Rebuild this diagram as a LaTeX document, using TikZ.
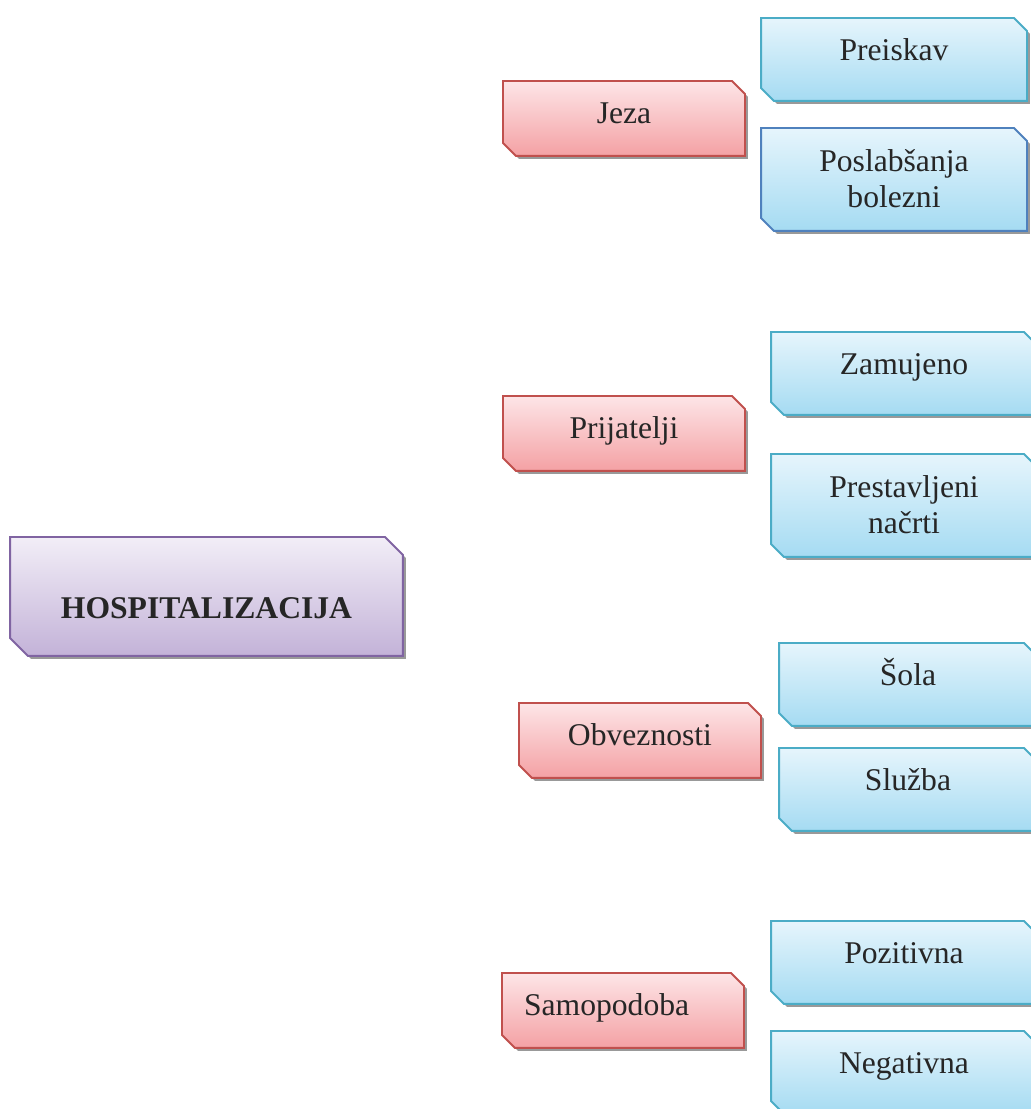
\documentclass[tikz,border=0pt]{standalone}
\usepackage{fontspec}
\setmainfont{Liberation Serif}
\usetikzlibrary{shapes.misc,shadows}

\definecolor{rootline}{HTML}{8064A2}
\definecolor{roottop}{HTML}{F2EEF7}
\definecolor{rootbot}{HTML}{C3B2D8}
\definecolor{branchline}{HTML}{C0504D}
\definecolor{branchtop}{HTML}{FDE5E7}
\definecolor{branchbot}{HTML}{F4A1A4}
\definecolor{leafline}{HTML}{4BACC6}
\definecolor{leafline2}{HTML}{4F81BD}
\definecolor{leaftop}{HTML}{E6F5FC}
\definecolor{leafbot}{HTML}{A5DBF2}

\tikzset{
    mm box/.style={chamfered rectangle,
                   chamfered rectangle corners={north east, south west},
                   chamfered rectangle sep=0.13cm,
                   anchor=north, inner xsep=0pt, inner ysep=0pt,
                   line width=1.1pt, align=center, text=black!85,
                   font=\fontsize{18}{20.7}\selectfont,
                   text height=0.4cm,
                   drop shadow={shadow xshift=0.06cm, shadow yshift=-0.06cm,
                                opacity=1, fill=black!40}},
    mm root/.style={mm box, draw=rootline, top color=roottop,
                    bottom color=rootbot, minimum width=7.86cm,
                    minimum height=2.38cm, chamfered rectangle sep=0.18cm,
                    text height=0.9cm, text depth=0cm,
                    font=\fontsize{18}{20.7}\selectfont\bfseries},
    mm branch/.style={mm box, draw=branchline, top color=branchtop,
                      bottom color=branchbot, minimum width=4.84cm,
                      minimum height=1.5cm, text depth=0.18cm},
    mm leaf/.style={mm box, draw=leafline, top color=leaftop,
                    bottom color=leafbot, minimum width=5.32cm,
                    minimum height=1.66cm, text depth=0.34cm},
    mm leaf2/.style={mm leaf, minimum height=2.06cm,
                     text height=1.4cm, text depth=0.26cm},
}

\begin{document}
\begin{tikzpicture}[x=0.02cm, y=-0.02cm]
    \useasboundingbox (0,0) rectangle (1031,1109);
    \clip (0,0) rectangle (1031,1109);
    % Root
    \node[mm root] (hosp) at (206.5,536) {HOSPITALIZACIJA};
    % Branch: Jeza
    \node[mm branch] (jeza) at (624,80) {Jeza};
    \node[mm leaf] (preiskav) at (894,17) {Preiskav};
    \node[mm leaf2, draw=leafline2] (poslab) at (894,127)
        {Poslabšanja\\bolezni};
    % Branch: Prijatelji
    \node[mm branch] (prijatelji) at (624,395) {Prijatelji};
    \node[mm leaf] (zamujeno) at (904,331) {Zamujeno};
    \node[mm leaf2] (nacrti) at (904,453) {Prestavljeni\\načrti};
    % Branch: Obveznosti
    \node[mm branch] (obveznosti) at (640,702) {Obveznosti};
    \node[mm leaf, minimum width=5.16cm] (sola) at (908,642) {Šola};
    \node[mm leaf, minimum width=5.16cm] (sluzba) at (908,747) {Služba};
    % Branch: Samopodoba
    \node[mm branch, text width=3.96cm, align=left] (samopodoba)
        at (623,972) {Samopodoba};
    \node[mm leaf] (pozitivna) at (904,920) {Pozitivna};
    \node[mm leaf] (negativna) at (904,1030) {Negativna};
\end{tikzpicture}
\end{document}
